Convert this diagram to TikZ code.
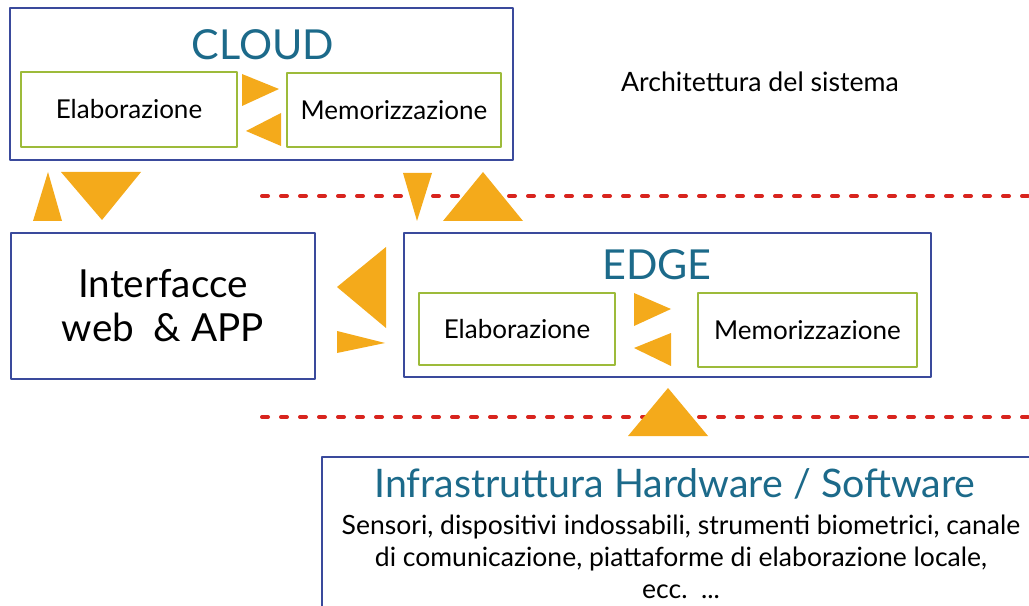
\documentclass[tikz,border=0pt]{standalone}
\usepackage{fontspec}
\setmainfont{Lato}
\definecolor{boxblue}{HTML}{3A4A9C}
\definecolor{boxgreen}{HTML}{9DBB3A}
\definecolor{arroworange}{HTML}{F4AA1B}
\definecolor{titleteal}{HTML}{1C6A8A}
\definecolor{dashred}{HTML}{D8241E}
\tikzset{
  outerbox/.style={draw=boxblue,line width=1.5pt,inner sep=0pt},
  innerbox/.style={draw=boxgreen,line width=1.5pt,inner sep=0pt,font=\fontsize{19.5}{22}\selectfont},
  layertitle/.style={text=titleteal,font=\fontsize{31}{34}\selectfont,inner sep=0pt},
  tri/.style={fill=arroworange},
  sepline/.style={dashred,line width=3pt,line cap=round,dash pattern=on 4.5pt off 9.75pt}
}

\begin{document}
\begin{tikzpicture}[line cap=round,line join=round,x=0.75pt,y=-0.75pt]
\clip (0,0) rectangle (1029,606);
\useasboundingbox (0,0) rectangle (1029,606);

\draw [sepline] (262,196) -- (1029,196);
\draw [sepline] (262,417) -- (1029,417);

\node [outerbox,minimum width=377.25pt,minimum height=114pt] (cloud) at (261.5,84) {};
\node [layertitle] (cloudtitle) at (263,45) {CLOUD};
\node [innerbox,minimum width=162pt,minimum height=56.25pt] (cloudelab) at (129,109.5) {Elaborazione};
\node [innerbox,minimum width=160.5pt,minimum height=55.5pt] (cloudmemo) at (394,110) {Memorizzazione};

\node [outerbox,minimum width=228pt,minimum height=109.5pt,align=center,font=\fontsize{29}{33}\selectfont] (ui) at (163,306) {Interfacce\\web\ \ \& APP};

\node [outerbox,minimum width=395.25pt,minimum height=108pt] (edge) at (667.5,305) {};
\node [layertitle] (edgetitle) at (657,265) {EDGE};
\node [innerbox,minimum width=147pt,minimum height=54pt] (edgeelab) at (517,329) {Elaborazione};
\node [innerbox,minimum width=164.25pt,minimum height=55.5pt] (edgememo) at (807.5,330) {Memorizzazione};

\node [outerbox,minimum width=538.5pt,minimum height=122.25pt] (infra) at (681,538.5) {};
\node [text=titleteal,font=\fontsize{29.5}{32}\selectfont,inner sep=0pt] (infratitle) at (675,484) {Infrastruttura Hardware / Software};
\node [align=center,font=\fontsize{19.9}{24}\selectfont,inner sep=0pt] (infratext) at (681,557) {Sensori, dispositivi indossabili, strumenti biometrici, canale\\di comunicazione, piattaforme di elaborazione locale,\\ecc.\ \ ...};

\node [font=\fontsize{20}{22}\selectfont] (caption) at (760,82) {Architettura del sistema};

\fill [tri] (242,74) -- (279,89) -- (242,106) -- cycle;
\fill [tri] (281,113) -- (246,131) -- (281,146) -- cycle;
\fill [tri] (33,221) -- (48,172) -- (62,221) -- cycle;
\fill [tri] (61,172) -- (141,172) -- (102,220) -- cycle;
\fill [tri] (403,173) -- (432,173) -- (417,221) -- cycle;
\fill [tri] (443,221) -- (483,172) -- (523,221) -- cycle;
\fill [tri] (386,247) -- (337,287) -- (386,328) -- cycle;
\fill [tri] (337,331) -- (385,343) -- (337,353) -- cycle;
\fill [tri] (634,293) -- (671,309) -- (634,326) -- cycle;
\fill [tri] (671,333) -- (634,348) -- (671,366) -- cycle;
\fill [tri] (628,436) -- (668,388) -- (708,436) -- cycle;
\end{tikzpicture}
\end{document}
